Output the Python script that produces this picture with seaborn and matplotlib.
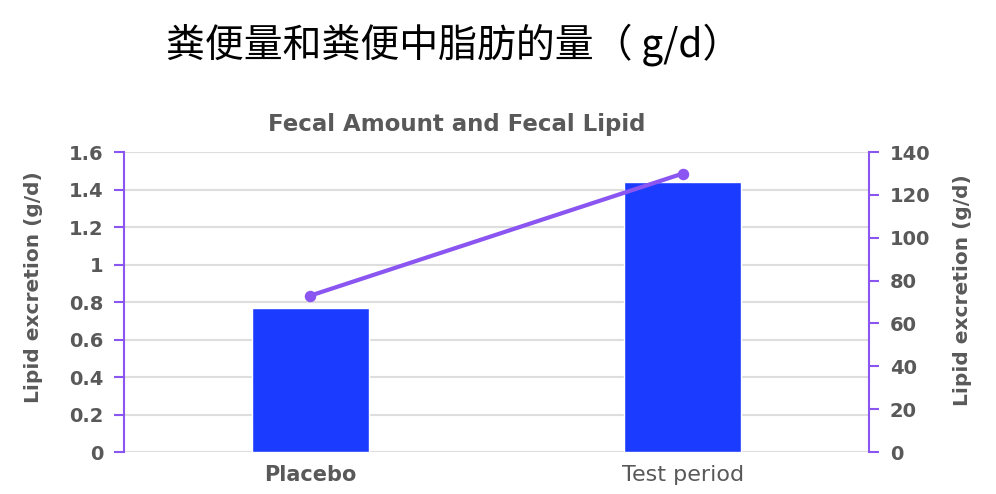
import numpy as np
import pandas as pd
import seaborn as sns
import matplotlib.pyplot as plt

# values
categories = ['Placebo', 'Test period']
fecal_amount = [0.77, 1.44]      # bars, left axis
fecal_lipid = [73, 130]          # line, right axis

df = pd.DataFrame({'group': categories, 'amount': fecal_amount, 'lipid': fecal_lipid})

sns.set_style('white')
plt.rcParams['font.family'] = ['DejaVu Sans', 'Noto Sans CJK SC']

gray = '#595959'
purple = '#8a55f0'
blue = '#1b3cff'

fig = plt.figure(figsize=(9.96, 4.94), dpi=100)
ax = fig.add_axes([0.1245, 0.085, 0.748, 0.607])

sns.barplot(data=df, x='group', y='amount', color=blue, width=0.315,
            saturation=1, ax=ax, zorder=2)
ax.set_ylim(0, 1.6)
ax.set_yticks(np.arange(0, 1.61, 0.2))
ax.set_yticklabels(['0', '0.2', '0.4', '0.6', '0.8', '1', '1.2', '1.4', '1.6'])
ax.set_xlim(-0.5, 1.5)
ax.yaxis.grid(True, color='#dedede', linewidth=1.5, zorder=0)
ax.set_axisbelow(True)
ax.set_xlabel('')
ax.set_ylabel('')

ax2 = ax.twinx()
sns.pointplot(data=df, x='group', y='lipid', color=purple, markers='o',
              linewidth=3, markersize=6, ax=ax2)
ax2.set_ylim(0, 140)
ax2.set_yticks(np.arange(0, 141, 20))
ax2.set_xlim(-0.5, 1.5)
ax2.set_ylabel('')
ax2.set_xlabel('')

for a in (ax, ax2):
    for s in a.spines.values():
        s.set_visible(False)
ax.spines['left'].set_visible(True)
ax.spines['left'].set_color(purple)
ax.spines['left'].set_linewidth(1.5)
ax2.spines['right'].set_visible(True)
ax2.spines['right'].set_color(purple)
ax2.spines['right'].set_linewidth(1.5)

ax.tick_params(axis='y', which='both', left=True, length=7, width=1.5, color=purple,
               labelcolor=gray, labelsize=14, pad=8)
ax2.tick_params(axis='y', which='both', right=True, length=7, width=1.5, color=purple,
                labelcolor=gray, labelsize=14, pad=8)
for lab in ax.get_yticklabels() + ax2.get_yticklabels():
    lab.set_fontweight('bold')

ax.tick_params(axis='x', length=0, pad=9, labelcolor=gray)
ax.set_xticks([0, 1])
ax.set_xticklabels(categories)
xl = ax.get_xticklabels()
xl[0].set_fontweight('bold')
xl[0].set_fontsize(15)
xl[1].set_fontweight('normal')
xl[1].set_fontsize(16)

fig.text(0.456, 0.909, '粪便量和粪便中脂肪的量（ g/d）', ha='center', va='center',
         fontsize=28, fontweight='medium', color='black',
         family=['Noto Sans CJK SC', 'DejaVu Sans'])
fig.text(0.459, 0.747, 'Fecal Amount and Fecal Lipid', ha='center', va='center',
         fontsize=16.5, fontweight='bold', color=gray)
fig.text(0.034, 0.418, 'Lipid excretion (g/d)', rotation=90, ha='center', va='center',
         fontsize=14.5, fontweight='bold', color=gray)
fig.text(0.966, 0.413, 'Lipid excretion (g/d)', rotation=90, ha='center', va='center',
         fontsize=14.5, fontweight='bold', color=gray)

fig.savefig('out.png', dpi=100)
